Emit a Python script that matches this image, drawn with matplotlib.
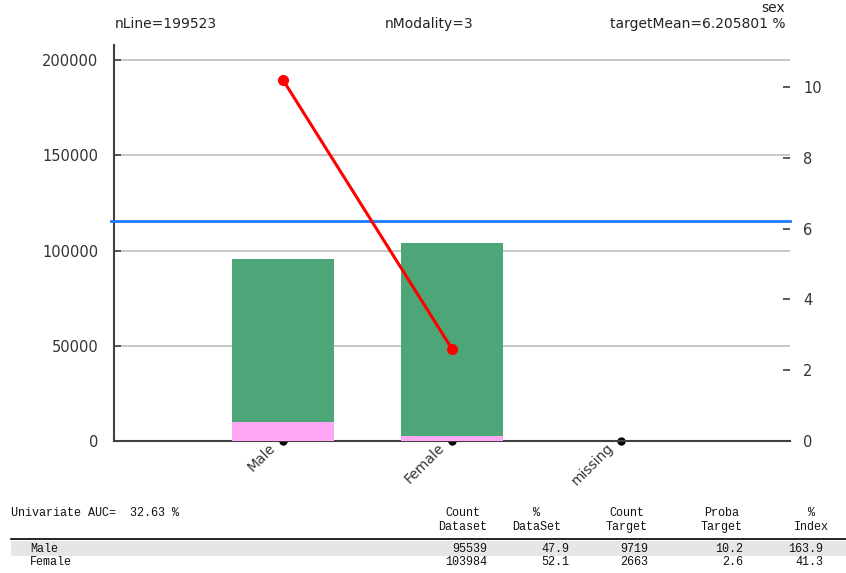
import matplotlib.pyplot as plt
import matplotlib.transforms as mtransforms
import numpy as np

categories = ['Male', 'Female', 'missing']
count_dataset = [95539, 103984, 0]
count_target = [9719, 2663, 0]
proba_target = [10.2, 2.6, 0.0]
pct_dataset = [47.9, 52.1, 0.0]
pct_index = [163.9, 41.3, 0.0]
target_mean = 6.205801
n_line = 199523
n_modality = 3
auc = 32.63

green = '#4da677'
pink = '#ffa6f5'
grid_c = '#c3c3c3'
dark = '#404040'

fig = plt.figure(figsize=(8.46, 5.73), dpi=100)
ax = fig.add_axes([0.1348, 0.2304, 0.7990, 0.6911])
x = np.arange(len(categories))

ax.bar(x, count_dataset, width=0.6, color=green, zorder=2)
ax.bar(x, count_target, width=0.6, color=pink, zorder=3)
ax.plot(x, [0] * len(x), 'o', color='black', ms=5, zorder=1, clip_on=False)

ax.set_xlim(-1, 3)
ax.set_ylim(0, 208000)
ax.set_yticks([0, 50000, 100000, 150000, 200000])
ax.set_yticklabels(['0', '50000', '100000', '150000', '200000'])
ax.yaxis.grid(True, color=grid_c, lw=1.3, zorder=0)
ax.set_axisbelow(True)
ax.set_xticks(x)
ax.set_xticklabels(categories, rotation=45, ha='right', rotation_mode='anchor')
ax.tick_params(axis='x', length=0, pad=4, labelsize=10, labelcolor='#333333')
# shift the rotated labels a little to the left, as in the original
shift = mtransforms.ScaledTranslation(-15 / 100, 6 / 100, fig.dpi_scale_trans)
for lab in ax.get_xticklabels():
    lab.set_transform(lab.get_transform() + shift)
ax.tick_params(axis='y', direction='in', length=5, width=1.2, color=dark,
               pad=11.5, labelsize=10.5, labelcolor='#333333', right=True)
for s in ['top', 'right']:
    ax.spines[s].set_visible(False)
for s in ['left', 'bottom']:
    ax.spines[s].set_color(dark)
    ax.spines[s].set_linewidth(1.5)

ax2 = ax.twinx()
ax2.set_ylim(0, 11.19)
ax2.set_yticks([0, 2, 4, 6, 8, 10])
ax2.tick_params(axis='y', direction='in', length=5, width=1.2, color=dark,
                pad=9.5, labelsize=10.5, labelcolor='#333333')
for s in ['top', 'right', 'left', 'bottom']:
    ax2.spines[s].set_visible(False)
ax2.axhline(target_mean, xmin=-0.004, xmax=1, color='#1e78ff', lw=2, clip_on=False)
ax2.plot(x[:2], proba_target[:2], '-o', color='#ff0000', lw=2.2, ms=7, zorder=5)

fig.text(166 / 846, 1 - 24 / 573, f'nLine={n_line}', ha='center', va='center', fontsize=10, color='#222222')
fig.text(429 / 846, 1 - 24 / 573, f'nModality={n_modality}', ha='center', va='center', fontsize=10, color='#222222')
fig.text(785 / 846, 1 - 24 / 573, f'targetMean={target_mean:.6f} %', ha='right', va='center', fontsize=10, color='#222222')
fig.text(785 / 846, 1 - 8 / 573, 'sex', ha='right', va='center', fontsize=10, color='#222222')

# table below the chart
mono = dict(family='Liberation Mono', fontsize=8.5, color='#111111')
fig.text(11 / 846, 1 - 513 / 573, f'Univariate AUC=  {auc:.2f} %', ha='left', va='center', **mono)
headers = [('Count\nDataset', 487), ('%\nDataSet', 561), ('Count\nTarget', 648),
           ('Proba\nTarget', 743), ('%\nIndex', 829)]
for txt, xr in headers:
    fig.text(xr / 846, 1 - 520 / 573, txt, ha='right', va='center',
             multialignment='center', linespacing=1.25, **mono)
fig.add_artist(plt.Line2D([11 / 846, 1], [1 - 539 / 573] * 2, color='black', lw=1.2))
fig.add_artist(plt.Rectangle((11 / 846, 1 - 556 / 573), 1, 15 / 573, color='#e6e6e6', lw=0, zorder=0))
row_y = [549, 562]
for i in range(2):
    y = 1 - row_y[i] / 573
    fig.text(30 / 846, y, categories[i], ha='left', va='center', **mono)
    fig.text(487 / 846, y, f'{count_dataset[i]}', ha='right', va='center', **mono)
    fig.text(569 / 846, y, f'{pct_dataset[i]:.1f}', ha='right', va='center', **mono)
    fig.text(648 / 846, y, f'{count_target[i]}', ha='right', va='center', **mono)
    fig.text(743 / 846, y, f'{proba_target[i]:.1f}', ha='right', va='center', **mono)
    fig.text(823 / 846, y, f'{pct_index[i]:.1f}', ha='right', va='center', **mono)

fig.savefig('out.png', dpi=100)
